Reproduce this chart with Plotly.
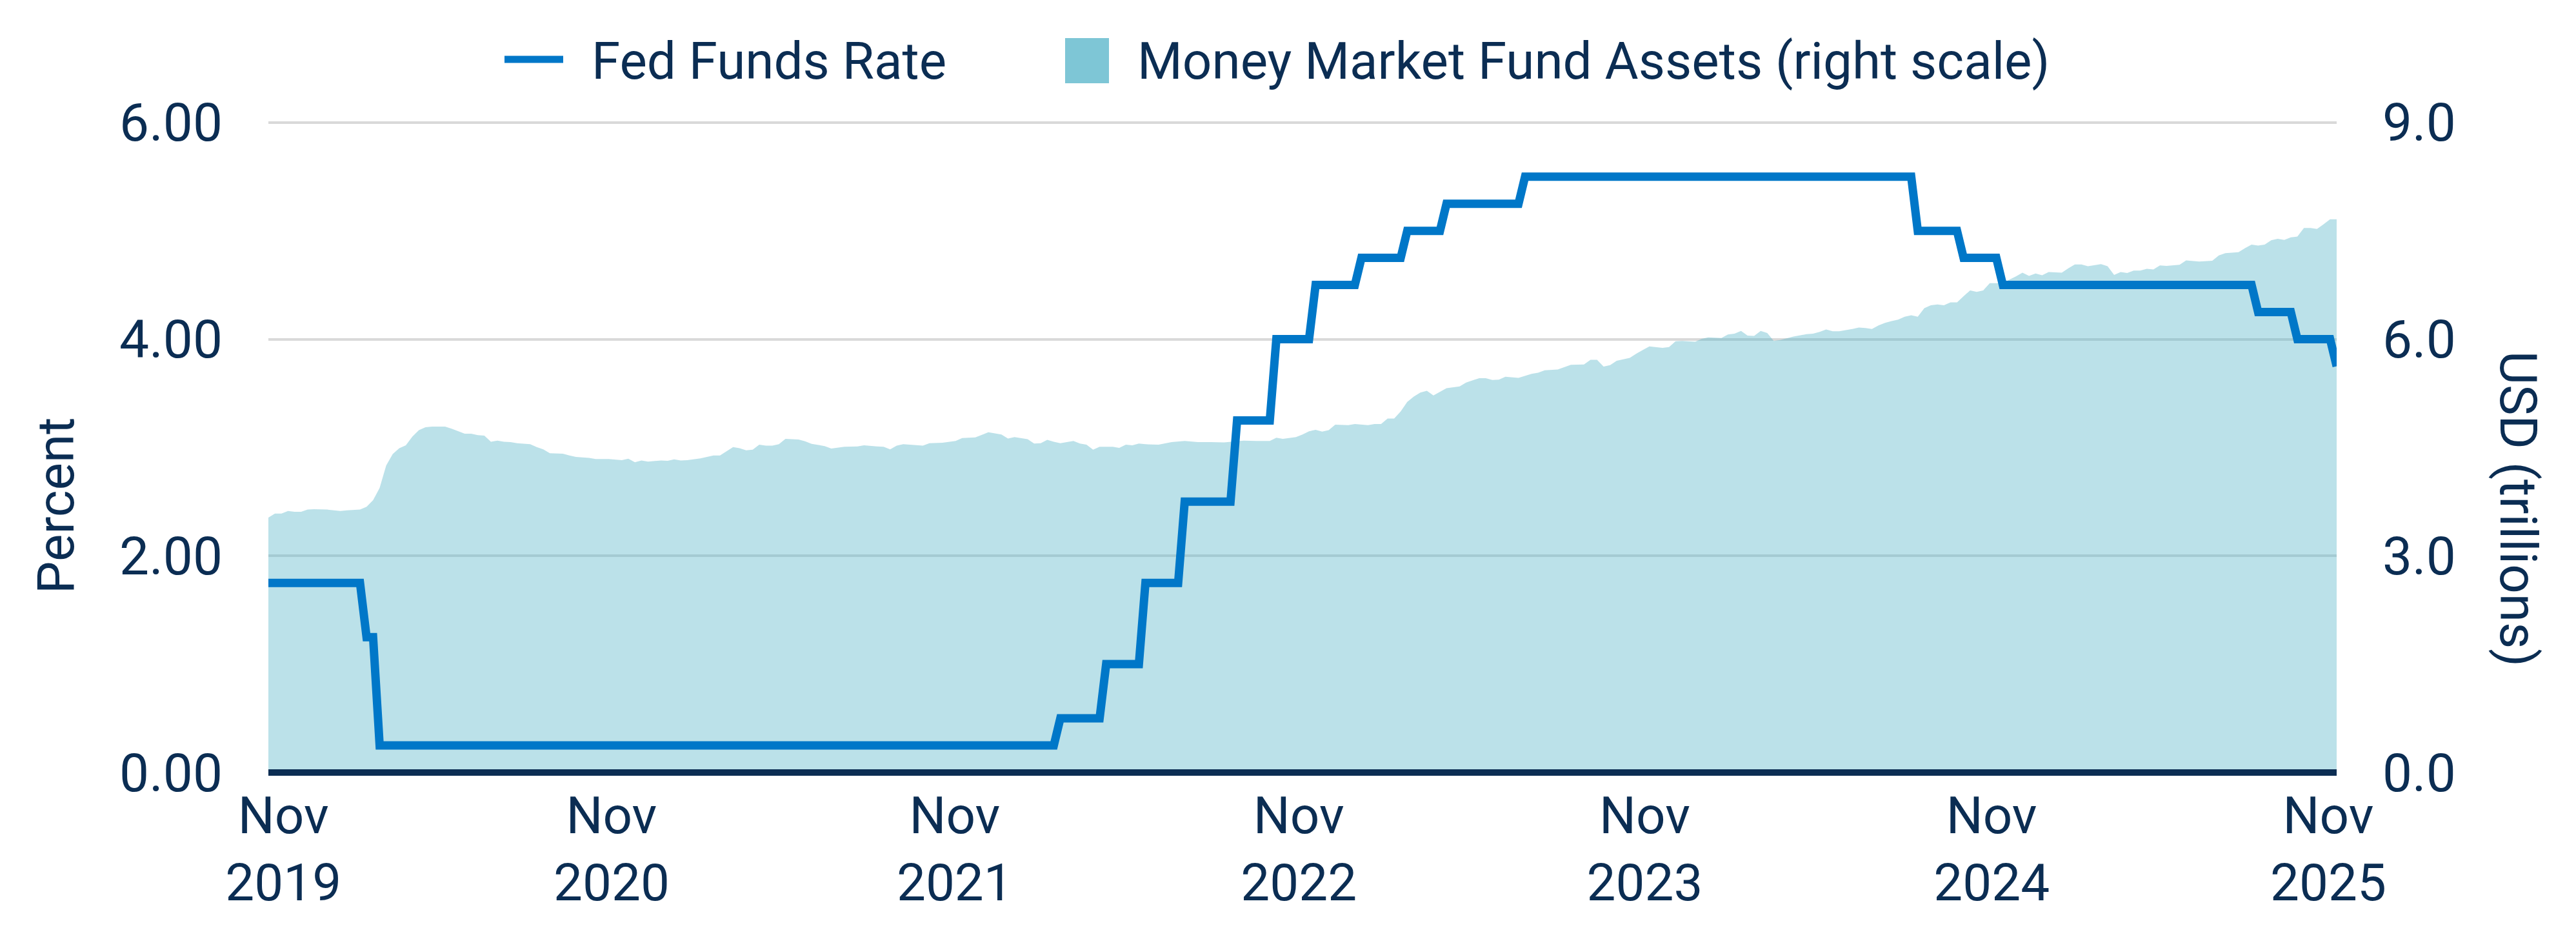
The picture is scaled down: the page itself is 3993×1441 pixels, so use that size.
import numpy as np
import pandas as pd
import plotly.graph_objects as go

# Fed funds target rate (upper bound), weekly observations at each step
fed_dates = [
    "2019-11-22", "2020-02-28", "2020-03-06", "2020-03-13", "2020-03-20",
    "2022-03-11", "2022-03-18", "2022-04-29", "2022-05-06", "2022-06-10",
    "2022-06-17", "2022-07-22", "2022-07-29", "2022-09-16", "2022-09-23",
    "2022-10-28", "2022-11-04", "2022-12-09", "2022-12-16", "2023-01-27",
    "2023-02-03", "2023-03-17", "2023-03-24", "2023-04-28", "2023-05-05",
    "2023-07-21", "2023-07-28", "2024-09-13", "2024-09-20", "2024-11-01",
    "2024-11-08", "2024-12-13", "2024-12-20", "2025-09-12", "2025-09-19",
    "2025-10-24", "2025-10-31", "2025-12-05", "2025-12-12",
]
fed_rate = [
    1.75, 1.75, 1.25, 1.25, 0.25,
    0.25, 0.50, 0.50, 1.00, 1.00,
    1.75, 1.75, 2.50, 2.50, 3.25,
    3.25, 4.00, 4.00, 4.50, 4.50,
    4.75, 4.75, 5.00, 5.00, 5.25,
    5.25, 5.50, 5.50, 5.00, 5.00,
    4.75, 4.75, 4.50, 4.50, 4.25,
    4.25, 4.00, 4.00, 3.75,
]

# Money market fund assets, USD trillions (weeks counted from 2019-11-22)
mmf_start = "2019-11-22"
mmf_week = [
    0, 1, 2, 3, 4, 5, 6, 7, 9, 11, 12, 14, 15, 16, 17, 18, 19, 20, 21, 22,
    23, 24, 25, 27, 28, 30, 31, 32, 33, 34, 35, 36, 37, 38, 40, 41, 42, 43, 45, 46,
    47, 49, 50, 52, 54, 55, 56, 57, 58, 60, 61, 62, 63, 64, 66, 68, 69, 71, 72, 73,
    74, 75, 76, 77, 78, 79, 81, 82, 83, 85, 86, 88, 90, 91, 93, 94, 95, 96, 97, 100,
    101, 103, 105, 106, 108, 110, 112, 113, 114, 116, 117, 118, 119, 120, 121, 123, 124, 125, 126, 127,
    129, 130, 131, 132, 133, 134, 136, 138, 140, 142, 144, 146, 149, 151, 153, 154, 155, 157, 158, 159,
    160, 161, 162, 163, 165, 166, 168, 169, 170, 171, 172, 173, 174, 175, 176, 177, 178, 180, 182, 183,
    185, 186, 187, 188, 189, 191, 193, 194, 195, 197, 199, 201, 202, 203, 204, 205, 206, 208, 209, 210,
    211, 213, 214, 215, 216, 218, 219, 220, 222, 223, 224, 225, 226, 227, 228, 229, 230, 231, 233, 235,
    236, 237, 238, 239, 240, 242, 243, 244, 245, 246, 247, 248, 249, 250, 251, 252, 253, 254, 255, 256,
    257, 258, 259, 260, 261, 262, 263, 265, 266, 267, 268, 269, 270, 271, 272, 274, 275, 276, 277, 278,
    280, 281, 282, 283, 284, 285, 286, 287, 288, 289, 290, 292, 293, 295, 297, 298, 299, 301, 302, 303,
    304, 305, 306, 307, 308, 309, 310, 311, 312, 313, 314, 315, 316,
]
mmf_assets = [
    3.53, 3.585, 3.585, 3.62, 3.61, 3.61, 3.64, 3.645, 3.64, 3.62, 3.63, 3.64, 3.68, 3.77, 3.94, 4.25, 4.41, 4.49, 4.53, 4.65,
    4.74, 4.78, 4.79, 4.79, 4.76, 4.69, 4.69, 4.67, 4.665, 4.58, 4.595, 4.58, 4.575, 4.56, 4.545, 4.505, 4.475, 4.42, 4.415, 4.39,
    4.37, 4.355, 4.34, 4.34, 4.325, 4.345, 4.295, 4.32, 4.305, 4.32, 4.315, 4.335, 4.32, 4.325, 4.35, 4.39, 4.39, 4.505, 4.49, 4.46,
    4.47, 4.54, 4.525, 4.525, 4.545, 4.62, 4.61, 4.585, 4.55, 4.52, 4.485, 4.51, 4.515, 4.53, 4.515, 4.51, 4.475, 4.525, 4.545, 4.525,
    4.56, 4.565, 4.59, 4.63, 4.64, 4.71, 4.68, 4.625, 4.645, 4.615, 4.555, 4.56, 4.605, 4.58, 4.56, 4.59, 4.555, 4.54, 4.47, 4.51,
    4.51, 4.495, 4.54, 4.53, 4.555, 4.545, 4.54, 4.575, 4.59, 4.575, 4.575, 4.57, 4.595, 4.59, 4.59, 4.635, 4.62, 4.645, 4.68, 4.725,
    4.745, 4.72, 4.74, 4.815, 4.81, 4.825, 4.81, 4.825, 4.825, 4.90, 4.90, 5.00, 5.13, 5.205, 5.26, 5.285, 5.22, 5.32, 5.345, 5.40,
    5.46, 5.46, 5.435, 5.44, 5.48, 5.465, 5.52, 5.535, 5.57, 5.58, 5.645, 5.65, 5.715, 5.715, 5.62, 5.64, 5.70, 5.74, 5.80, 5.85,
    5.90, 5.88, 5.89, 5.97, 5.975, 5.965, 6.005, 6.025, 6.015, 6.065, 6.075, 6.115, 6.05, 6.045, 6.115, 6.085, 5.975, 5.99, 6.035, 6.07,
    6.075, 6.10, 6.135, 6.11, 6.11, 6.14, 6.16, 6.155, 6.14, 6.19, 6.225, 6.25, 6.27, 6.31, 6.33, 6.31, 6.43, 6.47, 6.48, 6.47,
    6.51, 6.51, 6.595, 6.675, 6.655, 6.675, 6.775, 6.775, 6.825, 6.87, 6.92, 6.875, 6.91, 6.885, 6.93, 6.92, 6.98, 7.035, 7.035, 7.01,
    7.04, 7.01, 6.89, 6.93, 6.915, 6.95, 6.95, 6.975, 6.965, 7.02, 7.015, 7.03, 7.09, 7.075, 7.085, 7.16, 7.19, 7.205, 7.26, 7.31,
    7.295, 7.31, 7.37, 7.39, 7.375, 7.41, 7.42, 7.54, 7.54, 7.525, 7.59, 7.66, 7.66,
]
mmf_dates = pd.Timestamp(mmf_start) + pd.to_timedelta(7 * np.array(mmf_week), unit="D")

# x tick labels, placed where the source chart put them
tick_dates = ["2019-12-08", "2020-11-23", "2021-11-25", "2022-11-28",
              "2023-12-03", "2024-12-08", "2025-12-03"]
tick_text = ["Nov<br>2019", "Nov<br>2020", "Nov<br>2021", "Nov<br>2022",
             "Nov<br>2023", "Nov<br>2024", "Nov<br>2025"]

NAVY = "#0b2d53"
BLUE = "#0077c8"
FONT = "Roboto"

W, H = 3993, 1441
PL, PR, PT, PB = 416, 3622, 173, 1202


def px_x(px):
    return (px - PL) / (PR - PL)


def px_y(py):
    return (PB - py) / (PB - PT)


fig = go.Figure()

fig.add_trace(go.Scatter(
    x=mmf_dates, y=mmf_assets, name="Money Market Fund Assets (right scale)",
    mode="none", fill="tozeroy", fillcolor="rgba(85,179,199,0.4)",
    yaxis="y", showlegend=False, hoverinfo="skip"))

fig.add_trace(go.Scatter(
    x=fed_dates, y=fed_rate, name="Fed Funds Rate",
    mode="lines", line=dict(color=BLUE, width=13),
    yaxis="y2", showlegend=False))

# baseline at zero
fig.add_shape(type="line", xref="paper", yref="y", x0=0, x1=1, y0=0, y1=0,
              line=dict(color=NAVY, width=10), layer="above")

# legend drawn by hand so the keys keep the source sizes
fig.add_shape(type="line", xref="paper", yref="paper",
              x0=px_x(782), x1=px_x(873), y0=px_y(92), y1=px_y(92),
              line=dict(color=BLUE, width=11))
fig.add_shape(type="rect", xref="paper", yref="paper",
              x0=px_x(1651), x1=px_x(1719), y0=px_y(129), y1=px_y(59),
              fillcolor="#7ec6d6", line=dict(width=0))

annots = [
    dict(text="Fed Funds Rate", x=px_x(915), y=px_y(95), xanchor="left", yanchor="middle",
         font=dict(size=80)),
    dict(text="Money Market Fund Assets (right scale)", x=px_x(1761), y=px_y(95),
         xanchor="left", yanchor="middle", font=dict(size=80)),
    dict(text="Percent", x=px_x(87), y=px_y(784), textangle=-90,
         xanchor="center", yanchor="middle", font=dict(size=80)),
    dict(text="USD (trillions)", x=px_x(3903), y=px_y(788), textangle=90,
         xanchor="center", yanchor="middle", font=dict(size=80)),
]
for a in annots:
    fig.add_annotation(xref="paper", yref="paper", showarrow=False,
                       font_color=NAVY, font_family=FONT, **a)

fig.update_layout(
    width=W, height=H, autosize=False,
    margin=dict(l=PL, r=W - PR, t=PT, b=H - PB, pad=0),
    paper_bgcolor="white", plot_bgcolor="white",
    font=dict(family=FONT, color=NAVY, size=82),
    showlegend=False,
    xaxis=dict(
        type="date", range=["2019-11-22", "2025-12-12"],
        tickvals=tick_dates, ticktext=tick_text,
        showgrid=False, zeroline=False, showline=False, ticks="",
        ticklabelstandoff=8, tickfont=dict(size=80, color=NAVY),
    ),
    yaxis=dict(
        side="right", range=[-0.045, 9.15], tickvals=[0, 3, 6, 9], tickformat=".1f",
        showgrid=True, gridcolor="#d9d9d9", gridwidth=4,
        zeroline=False, showline=False, ticks="",
        ticklabelstandoff=70, tickfont=dict(size=82, color=NAVY),
    ),
    yaxis2=dict(
        overlaying="y", side="left", range=[-0.03, 6.1], tickvals=[0, 2, 4, 6],
        tickformat=".2f", showgrid=False, zeroline=False, showline=False, ticks="",
        ticklabelstandoff=70, tickfont=dict(size=82, color=NAVY),
    ),
)

fig.write_html("out.html", config={"displayModeBar": False},
               post_script="document.body.style.margin='0';")
